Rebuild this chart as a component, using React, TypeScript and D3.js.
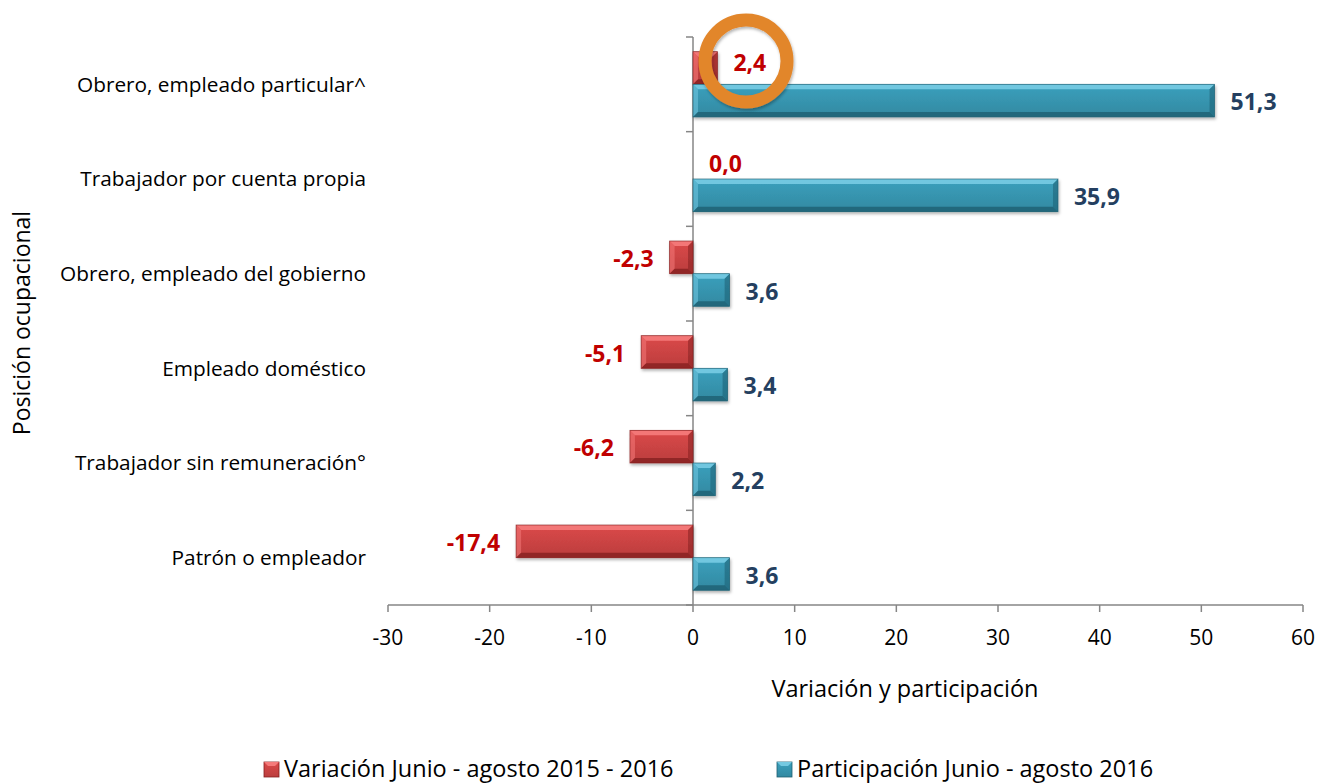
import React, { useEffect, useRef } from 'react';
import * as d3 from 'd3';

const width = 1317,
  height = 783;

const categories = [
  'Obrero, empleado particular^',
  'Trabajador por cuenta propia',
  'Obrero, empleado del gobierno',
  'Empleado doméstico',
  'Trabajador sin remuneración°',
  'Patrón o empleador',
];
const variacion = [2.4, 0.0, -2.3, -5.1, -6.2, -17.4];
const participacion = [51.3, 35.9, 3.6, 3.4, 2.2, 3.6];
const xTicks = [-30, -20, -10, 0, 10, 20, 30, 40, 50, 60];
const seriesNames = ['Variación Junio - agosto 2015 - 2016', 'Participación Junio - agosto 2016'];

const FONT = '"Open Sans", Calibri, sans-serif';
const AXIS = '#868686';

// face / light bevel / dark bevel
const PALETTE = {
  var: { face: '#D04545', light: '#F47A7A', dark: '#862020', label: '#C00000' },
  par: { face: '#3898B3', light: '#74C9E1', dark: '#1E5F72', label: '#243F60' },
};

const fmt = (v: number) => v.toFixed(1).replace('.', ',');

function App() {
  const ref = useRef<SVGSVGElement>(null);

  useEffect(() => {
    document.body.style.margin = '0';
    const svg = d3.select(ref.current);
    svg.selectAll('*').remove();

    const x = d3.scaleLinear().domain([-30, 60]).range([388, 1303]);
    const y = d3.scaleBand<string>().domain(categories).range([37, 605]);
    const sub = d3.scaleBand<string>().domain(['var', 'par']).range([0, y.bandwidth()]).paddingOuter(0.45);

    const defs = svg.append('defs');
    const f = defs.append('filter').attr('id', 'shadow').attr('x', '-20%').attr('y', '-20%').attr('width', '140%').attr('height', '160%');
    f.append('feDropShadow').attr('dx', 1).attr('dy', 2).attr('stdDeviation', 1.5).attr('flood-color', '#000').attr('flood-opacity', 0.3);

    Object.entries(PALETTE).forEach(([key, c]) => {
      const g = defs.append('linearGradient').attr('id', 'grad-' + key).attr('x1', 0).attr('y1', 0).attr('x2', 0).attr('y2', 1);
      g.append('stop').attr('offset', '0%').attr('stop-color', d3.color(c.face)!.brighter(0.15).toString());
      g.append('stop').attr('offset', '100%').attr('stop-color', d3.color(c.face)!.darker(0.3).toString());
    });

    // y axis (at zero)
    const x0 = x(0);
    svg.append('line').attr('x1', x0).attr('x2', x0).attr('y1', 37).attr('y2', 605).attr('stroke', AXIS).attr('stroke-width', 1.5);
    const yTicks = categories.map((c) => y(c)!).concat([605]);
    svg.selectAll('.ytick').data(yTicks).enter().append('line')
      .attr('x1', x0 - 7).attr('x2', x0).attr('y1', (d) => d).attr('y2', (d) => d)
      .attr('stroke', AXIS).attr('stroke-width', 1.5);

    // x axis
    svg.append('line').attr('x1', x(-30)).attr('x2', x(60)).attr('y1', 605).attr('y2', 605).attr('stroke', AXIS).attr('stroke-width', 1.5);
    svg.selectAll('.xtick').data(xTicks).enter().append('line')
      .attr('x1', (d) => x(d)).attr('x2', (d) => x(d)).attr('y1', 605).attr('y2', 612)
      .attr('stroke', AXIS).attr('stroke-width', 1.5);
    svg.selectAll('.xlab').data(xTicks).enter().append('text')
      .attr('x', (d) => x(d)).attr('y', 645)
      .attr('text-anchor', 'middle')
      .style('font-family', FONT).style('font-size', '21px').style('fill', '#000')
      .text((d) => String(d));

    // bars
    const drawBar = (key: 'var' | 'par', vals: number[]) => {
      const c = PALETTE[key];
      vals.forEach((v, i) => {
        const top = y(categories[i])! + sub(key)!;
        const h = sub.bandwidth();
        const xa = Math.min(x(0), x(v));
        const w = Math.abs(x(v) - x(0));
        if (w < 0.5) return;
        const g = svg.append('g').attr('filter', 'url(#shadow)');
        g.append('rect').attr('x', xa).attr('y', top).attr('width', w).attr('height', h).attr('fill', `url(#grad-${key})`);
        const b = Math.min(5, w / 2);
        const x1 = xa, x2 = xa + w, y1 = top, y2 = top + h;
        const poly = (pts: number[][], fill: string, op: number) =>
          g.append('polygon').attr('points', pts.map((p) => p.join(',')).join(' ')).attr('fill', fill).attr('opacity', op);
        poly([[x1, y1], [x2, y1], [x2 - b, y1 + b], [x1 + b, y1 + b]], c.light, 0.95);
        poly([[x1, y1], [x1 + b, y1 + b], [x1 + b, y2 - b], [x1, y2]], c.light, 0.55);
        poly([[x1, y2], [x1 + b, y2 - b], [x2 - b, y2 - b], [x2, y2]], c.dark, 0.8);
        poly([[x2, y1], [x2, y2], [x2 - b, y2 - b], [x2 - b, y1 + b]], c.dark, 0.55);
        g.append('rect').attr('x', xa).attr('y', top).attr('width', w).attr('height', h)
          .attr('fill', 'none').attr('stroke', c.dark).attr('stroke-width', 0.8).attr('opacity', 0.8);
      });
    };
    drawBar('var', variacion);
    drawBar('par', participacion);

    // value labels
    const drawLabels = (key: 'var' | 'par', vals: number[]) => {
      svg.selectAll('.lab-' + key).data(vals).enter().append('text')
        .attr('x', (d) => (d >= 0 ? x(d) + 16 : x(d) - 16))
        .attr('y', (d, i) => y(categories[i])! + sub(key)! + sub.bandwidth() / 2 - (key === 'var' && i === 0 ? 7 : 0))
        .attr('dy', '0.42em')
        .attr('text-anchor', (d) => (d >= 0 ? 'start' : 'end'))
        .style('font-family', FONT).style('font-size', '23px').style('font-weight', 'bold')
        .style('fill', PALETTE[key].label)
        .text((d) => fmt(d));
    };
    drawLabels('var', variacion);
    drawLabels('par', participacion);

    // category labels
    svg.selectAll('.cat').data(categories).enter().append('text')
      .attr('x', 366).attr('y', (d) => y(d)! + y.bandwidth() / 2)
      .attr('dy', '0.36em').attr('text-anchor', 'end')
      .style('font-family', FONT).style('font-size', '20.8px').style('fill', '#000')
      .text((d) => d);

    // axis titles
    svg.append('text').attr('x', 905).attr('y', 697).attr('text-anchor', 'middle')
      .style('font-family', FONT).style('font-size', '23.5px').text('Variación y participación');
    svg.append('text').attr('transform', 'translate(30,323) rotate(-90)').attr('text-anchor', 'middle')
      .style('font-family', FONT).style('font-size', '23px').text('Posición ocupacional');

    // highlight circle around first value
    svg.append('circle').attr('cx', 746).attr('cy', 61).attr('r', 41)
      .attr('fill', 'none').attr('stroke', '#E2862C').attr('stroke-width', 13).attr('filter', 'url(#shadow)');

    // legend
    const legendX = [264, 777];
    (['var', 'par'] as const).forEach((key, i) => {
      const c = PALETTE[key];
      const g = svg.append('g');
      g.append('rect').attr('x', legendX[i]).attr('y', 762).attr('width', 15).attr('height', 15).attr('fill', `url(#grad-${key})`).attr('stroke', c.dark).attr('stroke-width', 0.8);
      g.append('polygon').attr('points', `${legendX[i]},762 ${legendX[i] + 15},762 ${legendX[i] + 11},766 ${legendX[i] + 4},766`).attr('fill', c.light);
      g.append('text').attr('x', legendX[i] + 20).attr('y', 777)
        .style('font-family', FONT).style('font-size', '23.5px').text(seriesNames[i]);
    });
  }, []);

  return <svg ref={ref} width={width} height={height} style={{ display: 'block', background: '#fff' }} />;
}

export default App;
